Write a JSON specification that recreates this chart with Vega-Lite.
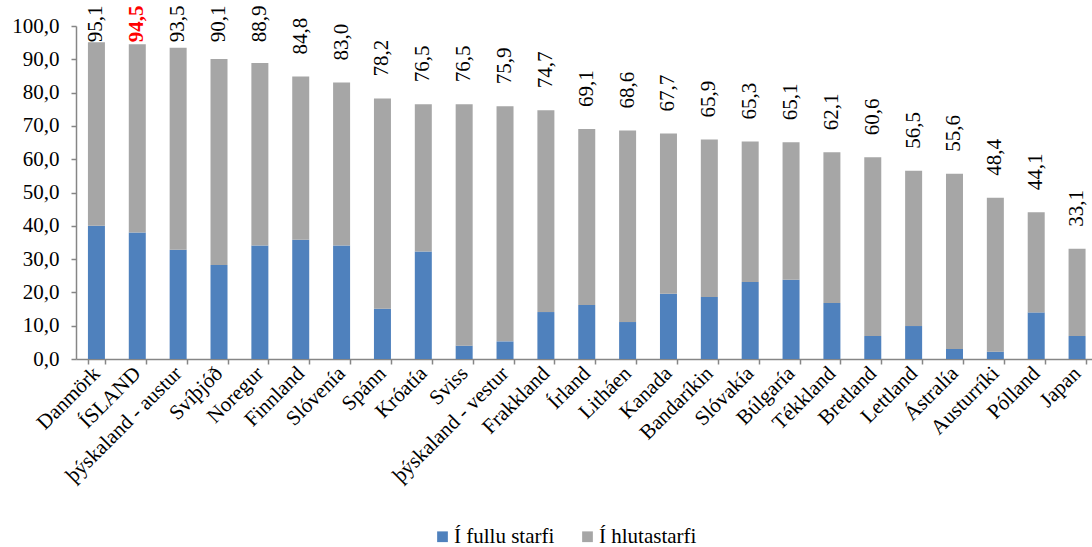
{
  "$schema": "https://vega.github.io/schema/vega-lite/v6.json",
  "autosize": {"type": "none"},
  "padding": {"left": 76, "top": 26, "right": 0, "bottom": 188},
  "width": 1016,
  "height": 333,
  "background": "white",
  "config": {
    "locale": {"number": {"decimal": ",", "thousands": ".", "grouping": [3], "currency": ["", ""]}},
    "view": {"stroke": null},
    "font": "Liberation Serif",
    "style": {"guide-label": {"font": "Liberation Serif"}, "text": {"font": "Liberation Serif"}},
    "axis": {"grid": false, "labelFont": "Liberation Serif", "labelColor": "black", "domainColor": "#868686", "tickColor": "#868686", "domainWidth": 1.5, "tickWidth": 1.5},
    "legend": {"labelFont": "Liberation Serif", "labelFontSize": 21, "labelColor": "black"}
  },
  "datasets": {
    "bars": [
      {"land": "Danmörk", "flokkur": "Í fullu starfi", "hlutfall": 40.0},
      {"land": "Danmörk", "flokkur": "Í hlutastarfi", "hlutfall": 55.1},
      {"land": "ÍSLAND", "flokkur": "Í fullu starfi", "hlutfall": 38.0},
      {"land": "ÍSLAND", "flokkur": "Í hlutastarfi", "hlutfall": 56.5},
      {"land": "þýskaland - austur", "flokkur": "Í fullu starfi", "hlutfall": 32.8},
      {"land": "þýskaland - austur", "flokkur": "Í hlutastarfi", "hlutfall": 60.7},
      {"land": "Svíþjóð", "flokkur": "Í fullu starfi", "hlutfall": 28.2},
      {"land": "Svíþjóð", "flokkur": "Í hlutastarfi", "hlutfall": 61.9},
      {"land": "Noregur", "flokkur": "Í fullu starfi", "hlutfall": 34.1},
      {"land": "Noregur", "flokkur": "Í hlutastarfi", "hlutfall": 54.8},
      {"land": "Finnland", "flokkur": "Í fullu starfi", "hlutfall": 35.8},
      {"land": "Finnland", "flokkur": "Í hlutastarfi", "hlutfall": 49.0},
      {"land": "Slóvenía", "flokkur": "Í fullu starfi", "hlutfall": 34.1},
      {"land": "Slóvenía", "flokkur": "Í hlutastarfi", "hlutfall": 48.9},
      {"land": "Spánn", "flokkur": "Í fullu starfi", "hlutfall": 15.1},
      {"land": "Spánn", "flokkur": "Í hlutastarfi", "hlutfall": 63.1},
      {"land": "Króatía", "flokkur": "Í fullu starfi", "hlutfall": 32.3},
      {"land": "Króatía", "flokkur": "Í hlutastarfi", "hlutfall": 44.2},
      {"land": "Sviss", "flokkur": "Í fullu starfi", "hlutfall": 4.0},
      {"land": "Sviss", "flokkur": "Í hlutastarfi", "hlutfall": 72.5},
      {"land": "þýskaland - vestur", "flokkur": "Í fullu starfi", "hlutfall": 5.3},
      {"land": "þýskaland - vestur", "flokkur": "Í hlutastarfi", "hlutfall": 70.6},
      {"land": "Frakkland", "flokkur": "Í fullu starfi", "hlutfall": 14.1},
      {"land": "Frakkland", "flokkur": "Í hlutastarfi", "hlutfall": 60.6},
      {"land": "Írland", "flokkur": "Í fullu starfi", "hlutfall": 16.2},
      {"land": "Írland", "flokkur": "Í hlutastarfi", "hlutfall": 52.9},
      {"land": "Litháen", "flokkur": "Í fullu starfi", "hlutfall": 11.1},
      {"land": "Litháen", "flokkur": "Í hlutastarfi", "hlutfall": 57.5},
      {"land": "Kanada", "flokkur": "Í fullu starfi", "hlutfall": 19.6},
      {"land": "Kanada", "flokkur": "Í hlutastarfi", "hlutfall": 48.1},
      {"land": "Bandaríkin", "flokkur": "Í fullu starfi", "hlutfall": 18.6},
      {"land": "Bandaríkin", "flokkur": "Í hlutastarfi", "hlutfall": 47.3},
      {"land": "Slóvakía", "flokkur": "Í fullu starfi", "hlutfall": 23.1},
      {"land": "Slóvakía", "flokkur": "Í hlutastarfi", "hlutfall": 42.2},
      {"land": "Búlgaría", "flokkur": "Í fullu starfi", "hlutfall": 23.8},
      {"land": "Búlgaría", "flokkur": "Í hlutastarfi", "hlutfall": 41.3},
      {"land": "Tékkland", "flokkur": "Í fullu starfi", "hlutfall": 16.8},
      {"land": "Tékkland", "flokkur": "Í hlutastarfi", "hlutfall": 45.3},
      {"land": "Bretland", "flokkur": "Í fullu starfi", "hlutfall": 6.9},
      {"land": "Bretland", "flokkur": "Í hlutastarfi", "hlutfall": 53.7},
      {"land": "Lettland", "flokkur": "Í fullu starfi", "hlutfall": 9.9},
      {"land": "Lettland", "flokkur": "Í hlutastarfi", "hlutfall": 46.6},
      {"land": "Ástralía", "flokkur": "Í fullu starfi", "hlutfall": 3.0},
      {"land": "Ástralía", "flokkur": "Í hlutastarfi", "hlutfall": 52.6},
      {"land": "Austurríki", "flokkur": "Í fullu starfi", "hlutfall": 2.2},
      {"land": "Austurríki", "flokkur": "Í hlutastarfi", "hlutfall": 46.2},
      {"land": "Pólland", "flokkur": "Í fullu starfi", "hlutfall": 14.0},
      {"land": "Pólland", "flokkur": "Í hlutastarfi", "hlutfall": 30.1},
      {"land": "Japan", "flokkur": "Í fullu starfi", "hlutfall": 6.9},
      {"land": "Japan", "flokkur": "Í hlutastarfi", "hlutfall": 26.2}
    ],
    "totals": [
      {"land": "Danmörk", "samtals": 95.1},
      {"land": "ÍSLAND", "samtals": 94.5},
      {"land": "þýskaland - austur", "samtals": 93.5},
      {"land": "Svíþjóð", "samtals": 90.1},
      {"land": "Noregur", "samtals": 88.9},
      {"land": "Finnland", "samtals": 84.8},
      {"land": "Slóvenía", "samtals": 83.0},
      {"land": "Spánn", "samtals": 78.2},
      {"land": "Króatía", "samtals": 76.5},
      {"land": "Sviss", "samtals": 76.5},
      {"land": "þýskaland - vestur", "samtals": 75.9},
      {"land": "Frakkland", "samtals": 74.7},
      {"land": "Írland", "samtals": 69.1},
      {"land": "Litháen", "samtals": 68.6},
      {"land": "Kanada", "samtals": 67.7},
      {"land": "Bandaríkin", "samtals": 65.9},
      {"land": "Slóvakía", "samtals": 65.3},
      {"land": "Búlgaría", "samtals": 65.1},
      {"land": "Tékkland", "samtals": 62.1},
      {"land": "Bretland", "samtals": 60.6},
      {"land": "Lettland", "samtals": 56.5},
      {"land": "Ástralía", "samtals": 55.6},
      {"land": "Austurríki", "samtals": 48.4},
      {"land": "Pólland", "samtals": 44.1},
      {"land": "Japan", "samtals": 33.1}
    ]
  },
  "layer": [
    {
      "data": {"name": "bars"},
      "mark": {"type": "bar"},
      "encoding": {
        "x": {
          "field": "land", "type": "nominal", "sort": null,
          "scale": {
            "domain": ["Danmörk", "ÍSLAND", "þýskaland - austur", "Svíþjóð", "Noregur", "Finnland", "Slóvenía", "Spánn", "Króatía", "Sviss", "þýskaland - vestur", "Frakkland", "Írland", "Litháen", "Kanada", "Bandaríkin", "Slóvakía", "Búlgaría", "Tékkland", "Bretland", "Lettland", "Ástralía", "Austurríki", "Pólland", "Japan"],
            "range": [0, 1021.5], "paddingInner": 0.584, "paddingOuter": 0.292
          },
          "axis": {"title": null, "labelAngle": -45, "labelAlign": "right", "labelBaseline": "middle", "labelFontSize": 21, "labelPadding": 6, "tickBand": "extent", "tickSize": 5}
        },
        "y": {
          "field": "hlutfall", "type": "quantitative", "stack": "zero",
          "scale": {"domain": [0, 100], "nice": false},
          "axis": {"title": null, "values": [0, 10, 20, 30, 40, 50, 60, 70, 80, 90, 100], "format": ".1f", "labelFontSize": 21, "labelPadding": 12, "tickSize": 5}
        },
        "color": {
          "field": "flokkur", "type": "nominal",
          "scale": {"domain": ["Í fullu starfi", "Í hlutastarfi"], "range": ["#4F81BD", "#A6A6A6"]},
          "legend": {"orient": "none", "legendX": 356, "legendY": 500, "direction": "horizontal", "title": null, "symbolType": "square", "symbolSize": 115, "symbolStrokeWidth": 0, "labelFontSize": 21, "labelFont": "Liberation Serif", "labelColor": "black", "columnPadding": 22, "labelOffset": 1, "padding": 0}
        },
        "order": {"field": "flokkur", "sort": "ascending"}
      }
    },
    {
      "data": {"name": "totals"},
      "transform": [{"filter": "datum.land !== 'ÍSLAND'"}],
      "mark": {"type": "text", "angle": 270, "align": "left", "baseline": "middle", "dx": 22, "fontSize": 21, "font": "Liberation Serif", "color": "black"},
      "encoding": {
        "x": {"field": "land", "type": "nominal", "sort": null},
        "y": {"field": "samtals", "type": "quantitative", "scale": {"domain": [0, 88.5], "range": [333, 38.3], "clamp": true, "nice": false, "zero": true}, "axis": null},
        "text": {"field": "samtals", "type": "quantitative", "format": ".1f"}
      }
    },
    {
      "data": {"name": "totals"},
      "transform": [{"filter": "datum.land === 'ÍSLAND'"}],
      "mark": {"type": "text", "angle": 270, "align": "left", "baseline": "middle", "dx": 22, "fontSize": 21, "font": "Liberation Serif", "fontWeight": "bold", "color": "#FF0000"},
      "encoding": {
        "x": {"field": "land", "type": "nominal", "sort": null},
        "y": {"field": "samtals", "type": "quantitative", "scale": {"domain": [0, 88.5], "range": [333, 38.3], "clamp": true, "nice": false, "zero": true}, "axis": null},
        "text": {"field": "samtals", "type": "quantitative", "format": ".1f"}
      }
    }
  ],
  "resolve": {"scale": {"y": "independent"}, "axis": {"y": "independent"}}
}
